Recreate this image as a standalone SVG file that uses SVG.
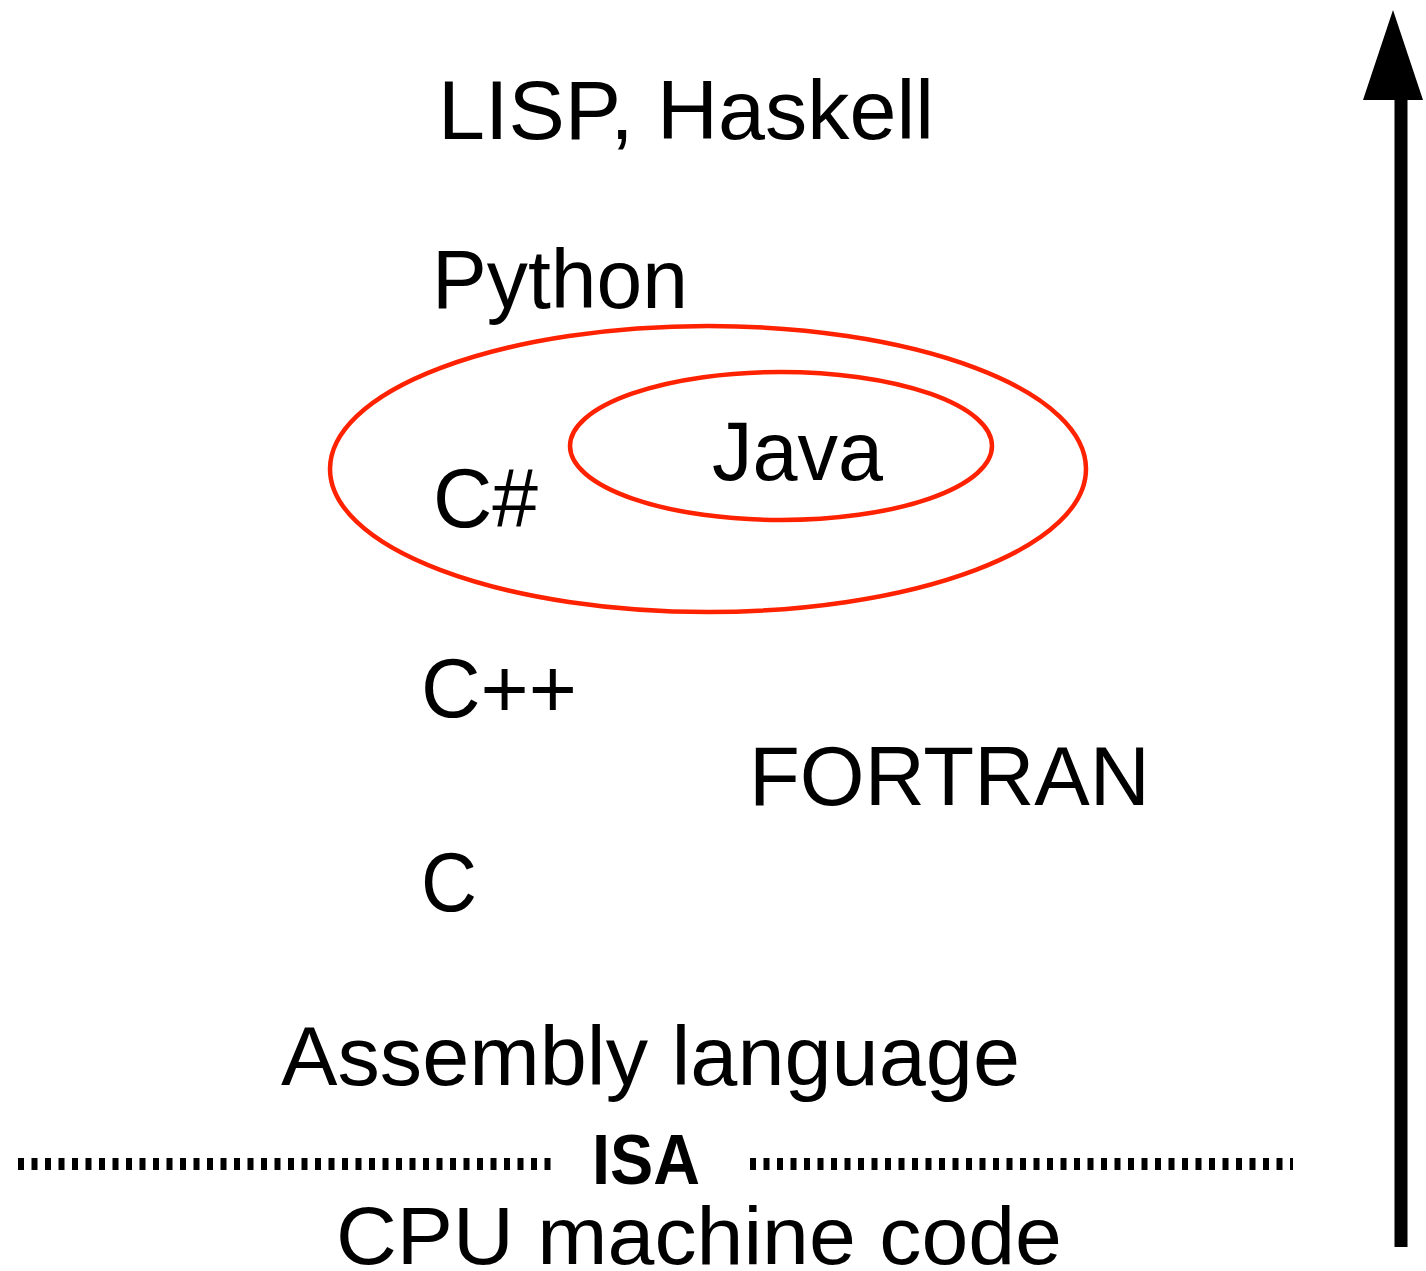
<svg xmlns="http://www.w3.org/2000/svg" width="1426" height="1271" viewBox="0 0 1426 1271">
<style>
  .t { font-family: "Liberation Sans", Arial, sans-serif; font-size: 84px; fill: #000; }
  .b { font-family: "Liberation Sans", Arial, sans-serif; font-size: 70px; font-weight: bold; fill: #000; }
  .ring { fill: none; stroke: #ff2200; stroke-width: 4.5; }
  .dots { stroke: #000; stroke-width: 12; stroke-dasharray: 6 7.5; fill: none; }
</style>
<rect width="1426" height="1271" fill="#fff"/>
<g id="java-group">
  <ellipse class="ring" cx="708" cy="469" rx="378" ry="143"/>
  <ellipse class="ring" cx="781" cy="446" rx="211" ry="74"/>
</g>
<g id="lisp"><text class="t" x="438" y="139" textLength="496" lengthAdjust="spacingAndGlyphs">LISP, Haskell</text></g>
<g id="python"><text class="t" x="432" y="308" textLength="256" lengthAdjust="spacingAndGlyphs">Python</text></g>
<g id="java"><text class="t" x="712" y="480" textLength="171" lengthAdjust="spacingAndGlyphs">Java</text></g>
<g id="csharp"><text class="t" x="433" y="527" textLength="105" lengthAdjust="spacingAndGlyphs">C#</text></g>
<g id="cpp"><text class="t" x="421" y="717" textLength="156" lengthAdjust="spacingAndGlyphs">C++</text></g>
<g id="fortran"><text class="t" x="749" y="805" textLength="401" lengthAdjust="spacingAndGlyphs">FORTRAN</text></g>
<g id="c"><text class="t" x="421" y="911" textLength="56" lengthAdjust="spacingAndGlyphs">C</text></g>
<g id="assembly"><text class="t" x="281" y="1085" textLength="739" lengthAdjust="spacingAndGlyphs">Assembly language</text></g>
<g id="isa">
  <line class="dots" x1="18" y1="1164" x2="557" y2="1164"/>
  <text class="b" x="592" y="1184" textLength="108" lengthAdjust="spacingAndGlyphs">ISA</text>
  <line class="dots" x1="750" y1="1164" x2="1293" y2="1164"/>
</g>
<g id="cpu"><text class="t" x="336" y="1264" style="font-size:81px" textLength="726" lengthAdjust="spacingAndGlyphs">CPU machine code</text></g>
<g id="connectors">
  <line x1="1401" y1="1247" x2="1401" y2="95" stroke="#000" stroke-width="13"/>
  <polygon points="1393,10 1363,100 1423,100" fill="#000"/>
</g>
</svg>
